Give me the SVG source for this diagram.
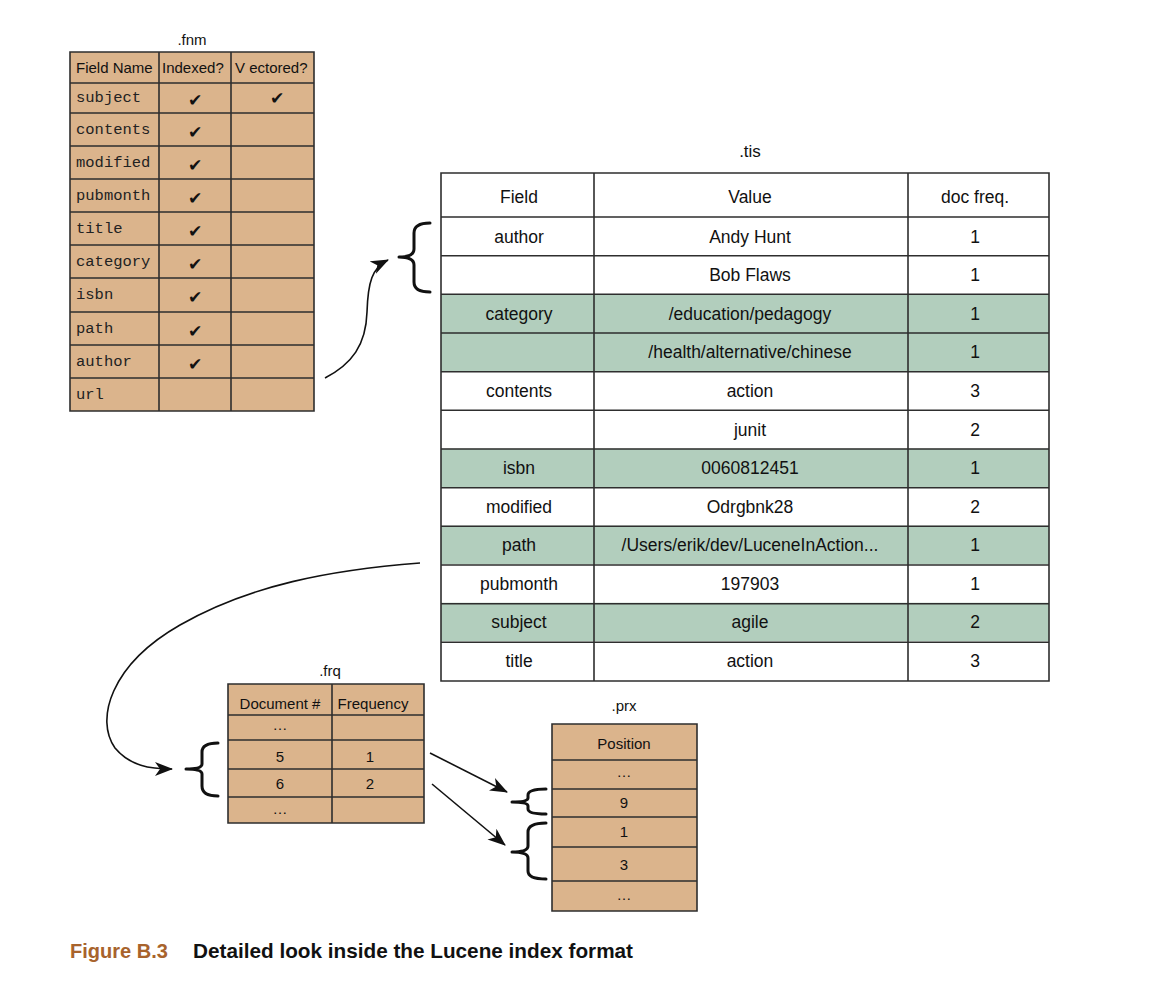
<svg xmlns="http://www.w3.org/2000/svg" width="1156" height="996" viewBox="0 0 1156 996">
<style>
.bg{fill:#ffffff}
.tan{fill:#dbb48c}
.green{fill:#b2cebd}
.wh{fill:#ffffff}
.grid{stroke:#2e2e2e;stroke-width:1.6;fill:none}
.s{font-family:"Liberation Sans","Open Sans",sans-serif;fill:#111}
.m{font-family:"Liberation Mono","DejaVu Sans Mono",monospace;fill:#222;font-size:15.5px}
.ck{font-family:"DejaVu Sans",sans-serif;fill:#111;font-size:17px;text-anchor:middle}
.c{text-anchor:middle}
.brace{stroke:#111;stroke-width:3;fill:none;stroke-linecap:round;stroke-linejoin:round}
.conn{stroke:#111;stroke-width:1.6;fill:none}
</style>
<defs>
<marker id="ah" markerWidth="18" markerHeight="14" refX="17" refY="7" orient="auto" markerUnits="userSpaceOnUse">
<path d="M0,0 L18,7 L0,14 L5,7 Z" fill="#111"/>
</marker>
</defs>
<rect class="bg" x="0" y="0" width="1156" height="996"/>

<g id="fnm">
<text class="s c" x="192" y="45" font-size="15">.fnm</text>
<rect class="tan" x="70" y="52" width="244" height="359"/>
<path class="grid" d="M70,52 H314 V411 H70 Z M159,52 V411 M231,52 V411 M70,83 H314 M70,113 H314 M70,146 H314 M70,179 H314 M70,212 H314 M70,245 H314 M70,278 H314 M70,312 H314 M70,345 H314 M70,378 H314"/>
<text class="s" x="76" y="73" font-size="15">Field Name</text>
<text class="s" x="162" y="73" font-size="15">Indexed?</text>
<text class="s" x="235" y="73" font-size="15">V ectored?</text>
<text class="m" x="76" y="102">subject</text>
<text class="m" x="76" y="134">contents</text>
<text class="m" x="76" y="167">modified</text>
<text class="m" x="76" y="200">pubmonth</text>
<text class="m" x="76" y="233">title</text>
<text class="m" x="76" y="266">category</text>
<text class="m" x="76" y="299">isbn</text>
<text class="m" x="76" y="333">path</text>
<text class="m" x="76" y="366">author</text>
<text class="m" x="76" y="399">url</text>
<text class="ck" x="195" y="106">✔</text>
<text class="ck" x="277" y="104">✔</text>
<text class="ck" x="195" y="138">✔</text>
<text class="ck" x="195" y="171">✔</text>
<text class="ck" x="195" y="204">✔</text>
<text class="ck" x="195" y="237">✔</text>
<text class="ck" x="195" y="270">✔</text>
<text class="ck" x="195" y="303">✔</text>
<text class="ck" x="195" y="337">✔</text>
<text class="ck" x="195" y="370">✔</text>
</g>

<g id="tis">
<text class="s c" x="750" y="157" font-size="17">.tis</text>
<rect class="wh" x="441" y="173" width="608" height="508"/>
<rect class="green" x="441" y="294.3" width="608" height="77.3"/>
<rect class="green" x="441" y="448.7" width="608" height="38.6"/>
<rect class="green" x="441" y="525.7" width="608" height="38.6"/>
<rect class="green" x="441" y="602.7" width="608" height="38.6"/>
<path class="grid" d="M441,173 H1049 V681 H441 Z M594,173 V681 M908,173 V681 M441,217 H1049 M441,255.7 H1049 M441,294.3 H1049 M441,333 H1049 M441,371.7 H1049 M441,410.3 H1049 M441,449 H1049 M441,487.7 H1049 M441,526.3 H1049 M441,565 H1049 M441,603.7 H1049 M441,642.3 H1049"/>
<g class="s c" font-size="17.5">
<text x="519" y="203">Field</text>
<text x="750" y="203">Value</text>
<text x="975" y="203">doc freq.</text>
<text x="519" y="243">author</text><text x="750" y="243">Andy Hunt</text><text x="975" y="243">1</text>
<text x="750" y="281">Bob Flaws</text><text x="975" y="281">1</text>
<text x="519" y="320">category</text><text x="750" y="320">/education/pedagogy</text><text x="975" y="320">1</text>
<text x="750" y="358">/health/alternative/chinese</text><text x="975" y="358">1</text>
<text x="519" y="397">contents</text><text x="750" y="397">action</text><text x="975" y="397">3</text>
<text x="750" y="436">junit</text><text x="975" y="436">2</text>
<text x="519" y="474">isbn</text><text x="750" y="474">0060812451</text><text x="975" y="474">1</text>
<text x="519" y="513">modified</text><text x="750" y="513">Odrgbnk28</text><text x="975" y="513">2</text>
<text x="519" y="551">path</text><text x="750" y="551">/Users/erik/dev/LuceneInAction...</text><text x="975" y="551">1</text>
<text x="519" y="590">pubmonth</text><text x="750" y="590">197903</text><text x="975" y="590">1</text>
<text x="519" y="628">subject</text><text x="750" y="628">agile</text><text x="975" y="628">2</text>
<text x="519" y="667">title</text><text x="750" y="667">action</text><text x="975" y="667">3</text>
</g>
<path class="brace" d="M430,223 Q414,223 414,233 L414,249 Q414,257 399,257 Q414,257 414,265 L414,282 Q414,292 430,292"/>
</g>

<g id="frq">
<text class="s c" x="330" y="676" font-size="15">.frq</text>
<rect class="tan" x="228" y="684" width="196" height="139"/>
<path class="grid" d="M228,684 H424 V823 H228 Z M332,684 V823 M228,715 H424 M228,740 H424 M228,769 H424 M228,797 H424"/>
<g class="s c" font-size="15">
<text x="280" y="709">Document #</text>
<text x="373" y="709">Frequency</text>
<text x="280" y="730">…</text>
<text x="280" y="762">5</text><text x="370" y="762">1</text>
<text x="280" y="789">6</text><text x="370" y="789">2</text>
<text x="280" y="814">…</text>
</g>
<path class="brace" d="M218,743 Q202,743 202,752 L202,764 Q202,769 186,769 Q202,769 202,774 L202,786 Q202,796 218,796"/>
</g>

<g id="prx">
<text class="s c" x="624" y="711" font-size="15">.prx</text>
<rect class="tan" x="552" y="724" width="145" height="187"/>
<path class="grid" d="M552,724 H697 V911 H552 Z M552,760 H697 M552,789 H697 M552,817 H697 M552,847 H697 M552,881 H697"/>
<g class="s c" font-size="15">
<text x="624" y="749">Position</text>
<text x="624" y="777">…</text>
<text x="624" y="808">9</text>
<text x="624" y="837">1</text>
<text x="624" y="870">3</text>
<text x="624" y="900">…</text>
</g>
<path class="brace" d="M546,789 Q528,789 528,795 L528,798 Q528,802 512,802 Q528,802 528,806 L528,809 Q528,814 546,814"/>
<path class="brace" d="M546,823 Q528,823 528,832 L528,846 Q528,852 512,852 Q528,852 528,858 L528,871 Q528,879 546,879"/>
</g>

<g id="connectors">
<path class="conn" marker-end="url(#ah)" d="M325,378 C352,364 366,345 367,312 C368,282 372,268 388,260"/>
<path class="conn" marker-end="url(#ah)" d="M420,563 C330,570 250,585 180,625 C110,665 95,720 115,748 C130,766 150,769 172,769"/>
<path class="conn" marker-end="url(#ah)" d="M430,753 L507,792"/>
<path class="conn" marker-end="url(#ah)" d="M432,784 L505,845"/>
</g>

<g id="caption">
<text x="70" y="958" font-family="Liberation Sans Narrow,Liberation Sans,sans-serif" font-weight="bold" font-size="21" fill="#a8632c" textLength="98" lengthAdjust="spacingAndGlyphs">Figure B.3</text>
<text x="193" y="958" font-family="Liberation Sans Narrow,Liberation Sans,sans-serif" font-weight="bold" font-size="21" fill="#111" textLength="440" lengthAdjust="spacingAndGlyphs">Detailed look inside the Lucene index format</text>
</g>
</svg>
